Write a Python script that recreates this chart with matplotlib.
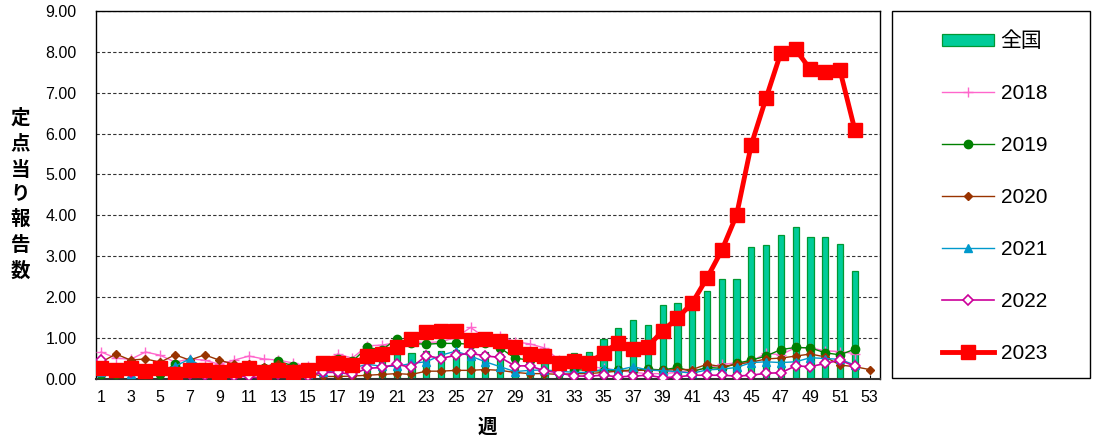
import matplotlib
matplotlib.use("Agg")
import matplotlib.pyplot as plt
import numpy as np
from matplotlib.patches import Rectangle

plt.rcParams["font.family"] = ["Liberation Sans", "Noto Sans CJK JP", "DejaVu Sans"]

WEEKS = np.arange(1, 54)
ZENKOKU = [0.15, 0.12, 0.15, 0.12, 0.12, 0.15, 0.15, 0.12, 0.12, 0.12,
           0.12, 0.15, 0.15, 0.12, 0.12, 0.15, 0.2, 0.3, 0.45, 0.55,
           0.6, 0.62, 0.67, 0.67, 0.69, 0.7, 0.65, 0.6, 0.55, 0.45,
           0.4, 0.5, 0.62, 0.66, 0.96, 1.24, 1.44, 1.3, 1.81, 1.85,
           1.8, 2.14, 2.43, 2.44, 3.23, 3.28, 3.52, 3.72, 3.47, 3.47, 3.3, 2.64]
Y2018 = [0.65, 0.5, 0.47, 0.65, 0.57, 0.4, 0.48, 0.45, 0.35, 0.45,
         0.55, 0.48, 0.45, 0.38, 0.3, 0.35, 0.6, 0.5, 0.8, 0.82,
         0.88, 0.9, 0.88, 0.9, 1.0, 1.25, 1.0, 1.05, 0.9, 0.85,
         0.75, 0.45, 0.35, 0.3, 0.25, 0.2, 0.15, 0.12, 0.12, 0.15,
         0.2, 0.25, 0.35, 0.38, 0.42, 0.62, 0.58, 0.76, 0.75, 0.68, 0.66, 0.61]
Y2019 = [0.1, 0.1, 0.2, 0.1, 0.12, 0.35, 0.15, 0.1, 0.1, 0.2,
         0.12, 0.25, 0.42, 0.31, 0.2, 0.3, 0.49, 0.42, 0.76, 0.7,
         0.97, 0.86, 0.84, 0.86, 0.86, 0.84, 0.88, 0.75, 0.5, 0.45,
         0.62, 0.4, 0.22, 0.2, 0.18, 0.2, 0.2, 0.23, 0.21, 0.27,
         0.17, 0.27, 0.25, 0.37, 0.45, 0.55, 0.71, 0.76, 0.75, 0.63, 0.58, 0.72]
Y2020 = [0.4, 0.6, 0.45, 0.48, 0.4, 0.58, 0.45, 0.58, 0.45, 0.35,
         0.35, 0.28, 0.35, 0.25, 0.15, 0.05, 0.05, 0.06, 0.08, 0.1,
         0.12, 0.1, 0.18, 0.18, 0.2, 0.2, 0.22, 0.2, 0.15, 0.12,
         0.12, 0.1, 0.12, 0.12, 0.15, 0.18, 0.2, 0.2, 0.2, 0.22,
         0.22, 0.35, 0.29, 0.35, 0.4, 0.48, 0.5, 0.55, 0.6, 0.53, 0.33, 0.29, 0.22]
Y2021 = [0.15, 0.2, 0.1, 0.15, 0.2, 0.3, 0.48, 0.25, 0.2, 0.15,
         0.15, 0.1, 0.15, 0.1, 0.1, 0.15, 0.2, 0.25, 0.35, 0.3,
         0.3, 0.37, 0.41, 0.57, 0.67, 0.55, 0.41, 0.29, 0.17, 0.2,
         0.21, 0.18, 0.15, 0.15, 0.23, 0.21, 0.29, 0.21, 0.19, 0.17,
         0.13, 0.21, 0.23, 0.27, 0.39, 0.41, 0.39, 0.41, 0.51, 0.49, 0.47, 0.33]
Y2022 = [0.45, 0.2, 0.15, 0.2, 0.2, 0.15, 0.12, 0.08, 0.1, 0.05,
         0.05, 0.0, 0.1, 0.05, 0.07, 0.15, 0.15, 0.1, 0.25, 0.27,
         0.35, 0.27, 0.56, 0.49, 0.57, 0.62, 0.55, 0.52, 0.31, 0.31,
         0.19, 0.14, 0.06, 0.06, 0.08, 0.04, 0.06, 0.08, 0.02, 0.04,
         0.08, 0.08, 0.08, 0.06, 0.08, 0.13, 0.14, 0.31, 0.29, 0.37, 0.45, 0.3]
Y2023 = [0.25, 0.22, 0.25, 0.18, 0.25, 0.12, 0.2, 0.22, 0.15, 0.2,
         0.25, 0.15, 0.22, 0.15, 0.22, 0.38, 0.37, 0.33, 0.56, 0.59,
         0.78, 0.98, 1.15, 1.17, 1.17, 0.94, 0.98, 0.92, 0.78, 0.59,
         0.56, 0.39, 0.43, 0.38, 0.62, 0.88, 0.72, 0.78, 1.17, 1.48,
         1.85, 2.46, 3.14, 4.0, 5.73, 6.87, 7.98, 8.06, 7.57, 7.51, 7.55, 6.10]

YTICKS = np.arange(0, 10, 1)
XTICKS = np.arange(1, 54, 2)

fig = plt.figure(figsize=(10.93, 4.45), dpi=100)
ax = fig.add_axes([0.0878, 0.1494, 0.7172, 0.8256])

ax.bar(WEEKS[:len(ZENKOKU)], ZENKOKU, width=0.42, color="#00CC99",
       edgecolor="#009933", linewidth=0.9, label="全国", zorder=2)
ax.plot(WEEKS[:52], Y2018, color="#FF66CC", lw=1.0, marker="+", ms=7, mew=1.0,
        label="2018", zorder=3)
ax.plot(WEEKS[:52], Y2019, color="#008000", lw=1.0, marker="o", ms=6,
        label="2019", zorder=3)
ax.plot(WEEKS[:53], Y2020, color="#993300", lw=1.0, marker="D", ms=4.5,
        label="2020", zorder=3)
ax.plot(WEEKS[:52], Y2021, color="#0099CC", lw=1.0, marker="^", ms=6,
        label="2021", zorder=3)
ax.plot(WEEKS[:52], Y2022, color="#CC0099", lw=1.2, marker="D", ms=5,
        mfc="white", mew=1.2, label="2022", zorder=4)
ax.plot(WEEKS[:52], Y2023, color="#FF0000", lw=3.5, marker="s", ms=10,
        label="2023", zorder=5)

ax.set_xlim(0.65, 53.7)
ax.set_ylim(0, 9)
ax.set_yticks(YTICKS)
ax.set_yticklabels([f"{v:.2f}" for v in YTICKS], fontsize=11.5)
ax.set_xticks(XTICKS)
ax.set_xticklabels([str(v) for v in XTICKS], fontsize=11.5)
ax.set_xticks(WEEKS, minor=True)
ax.tick_params(axis="y", length=0, pad=14)
ax.tick_params(axis="x", which="both", direction="in", length=3, pad=8)
ax.grid(axis="y", color="#333333", linestyle=(0, (3, 2)), linewidth=0.8, zorder=1)
ax.set_axisbelow(True)
for spine in ax.spines.values():
    spine.set_linewidth(1.0)
ax.spines["bottom"].set_linewidth(1.5)
ax.spines["bottom"].set_color("#333333")

fig.text(0.0185, 0.562, "定\n点\n当\nり\n報\n告\n数", ha="center", va="center",
         fontsize=14, fontweight="bold", linespacing=1.47)
fig.text(0.4455, 0.038, "週", ha="center", va="center", fontsize=14,
         fontweight="bold")

fig.patches.append(Rectangle((892 / 1093, 1 - 378 / 445), 198 / 1093, 367 / 445,
                             transform=fig.transFigure, fill=False,
                             edgecolor="black", linewidth=1.0))
handles, labels = ax.get_legend_handles_labels()
order = [6, 0, 1, 2, 3, 4, 5]
fig.legend([handles[i] for i in order], [labels[i] for i in order],
           loc="upper left", bbox_to_anchor=(0.845, 0.971), frameon=False,
           fontsize=15, handlelength=2.5, handleheight=0.56, labelspacing=1.58,
           handletextpad=0.3)

fig.savefig("out.png", dpi=100)
